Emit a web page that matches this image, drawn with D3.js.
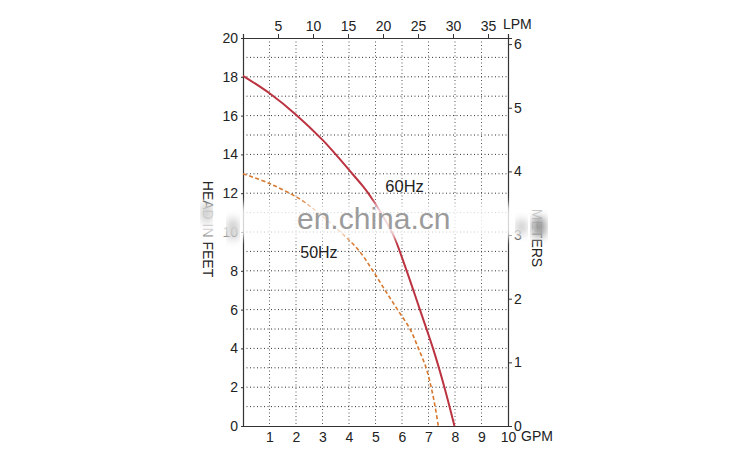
<!DOCTYPE html>
<html lang="en">
	<head>
		<meta charset="utf-8">
		<title>Pump curve</title>
		<script type="text/javascript" src="https://cdn.jsdelivr.net/npm/d3@7"></script>
		<style type="text/css">
			body { margin: 0; background: #fff; }
			.Axis path, .Axis line { stroke: #333; }
			.Axis text { font-family: "Liberation Sans", Arial, sans-serif; font-size: 14px; fill: #222; }
			.grid line { stroke: #333; stroke-width: 1; stroke-dasharray: 1,2.5; }
			.lbl { font-family: "Liberation Sans", Arial, sans-serif; font-size: 14px; fill: #222; }
		</style>
	</head>
	<body>
		<script type="text/javascript">

			// data
			var gpmTicks = [1, 2, 3, 4, 5, 6, 7, 8, 9, 10];
			var lpmTicks = [5, 10, 15, 20, 25, 30, 35];
			var feetTicks = [0, 2, 4, 6, 8, 10, 12, 14, 16, 18, 20];
			var meterTicks = [0, 1, 2, 3, 4, 5, 6];

			var gpm60 = [0, 1, 2, 3, 3.5, 4, 4.5, 4.75, 5.2, 5.67, 6.15, 6.65, 7.17, 7.6, 7.98];
			var feet60 = [18.05, 17.15, 16.05, 14.75, 14.0, 13.2, 12.4, 11.95, 11.0, 9.85, 8.1, 6.1, 4, 2, 0];
			var gpm50 = [0, 1, 2.2, 3, 3.8, 4.4, 4.9, 5.36, 5.83, 6.3, 6.62, 6.91, 7.1, 7.25, 7.37];
			var feet50 = [13, 12.5, 11.65, 10.8, 9.85, 9, 8, 7, 6, 5, 4, 3, 2, 1, 0];

			var w = 750;
			var h = 459;
			var pLeft = 243, pRight = 508, pTop = 38, pBottom = 426;

			var xScale = d3.scaleLinear().domain([0, 10]).range([pLeft, pRight]);
			var yScale = d3.scaleLinear().domain([0, 20]).range([pBottom, pTop]);
			var lpmScale = d3.scaleLinear().domain([0, 10 * 3.7854]).range([pLeft, pRight]);
			var mScale = d3.scaleLinear().domain([0, 20 * 0.3048]).range([pBottom, pTop]);

			var svg = d3.select("body")
						.append("svg")
						.attr("width", w)
						.attr("height", h);

			// grid
			var grid = svg.append("g").classed("grid", true);
			grid.selectAll("line.v")
				.data(d3.range(1, 10))
				.enter().append("line").attr("class", "v")
				.attr("x1", function(d) { return xScale(d); })
				.attr("x2", function(d) { return xScale(d); })
				.attr("y1", pTop).attr("y2", pBottom)
				.style("stroke", "#555");
			grid.selectAll("line.h")
				.data(d3.range(1, 20))
				.enter().append("line").attr("class", "h")
				.attr("y1", function(d) { return yScale(d); })
				.attr("y2", function(d) { return yScale(d); })
				.attr("x1", pLeft).attr("x2", pRight);

			// axes
			svg.append("g").classed("Axis", true)
				.attr("transform", "translate(0," + pBottom + ")")
				.call(d3.axisBottom(xScale).tickValues(gpmTicks).tickSize(0).tickPadding(6));
			svg.append("g").classed("Axis", true)
				.attr("transform", "translate(0," + pTop + ")")
				.call(d3.axisTop(lpmScale).tickValues(lpmTicks).tickSize(4).tickPadding(3));
			svg.append("g").classed("Axis", true)
				.attr("transform", "translate(" + pLeft + ",0)")
				.call(d3.axisLeft(yScale).tickValues(feetTicks).tickSize(2).tickPadding(3));
			svg.append("g").classed("Axis", true)
				.attr("transform", "translate(" + pRight + ",0)")
				.call(d3.axisRight(mScale).tickValues(meterTicks).tickFormat(d3.format("d")).tickSize(4).tickPadding(2));
			svg.selectAll(".Axis .domain").attr("stroke-width", 1.2);

			// unit labels
			svg.append("text").classed("lbl", true).attr("x", 521).attr("y", 441).text("GPM");
			svg.append("text").classed("lbl", true).attr("x", 503).attr("y", 29).text("LPM");
			svg.append("text").classed("lbl", true)
				.attr("transform", "translate(203,229) rotate(90)")
				.attr("text-anchor", "middle").text("HEAD IN FEET");
			svg.append("text").classed("lbl", true)
				.attr("transform", "translate(532,238) rotate(90)")
				.attr("text-anchor", "middle").text("METERS");

			// curves
			var line = d3.line()
				.x(function(d) { return xScale(d[0]); })
				.y(function(d) { return yScale(d[1]); })
				.curve(d3.curveCatmullRom.alpha(0.5));

			svg.append("path")
				.datum(d3.zip(gpm50, feet50))
				.attr("d", line)
				.attr("fill", "none")
				.attr("stroke", "#d8782e")
				.attr("stroke-width", 1.6)
				.attr("stroke-dasharray", "4,2.5");

			svg.append("path")
				.datum(d3.zip(gpm60, feet60))
				.attr("d", line)
				.attr("fill", "none")
				.attr("stroke", "#bb3340")
				.attr("stroke-width", 2);

			svg.append("text").attr("class", "lbl").style("font-size", "16.5px")
				.attr("x", xScale(5.37)).attr("y", yScale(12.05)).text("60Hz");
			svg.append("text").attr("class", "lbl").style("font-size", "16px")
				.attr("x", xScale(2.16)).attr("y", yScale(8.65)).text("50Hz");

			// watermark
			var defs = svg.append("defs");
			defs.append("filter").attr("id", "blur").attr("x", "-20%").attr("y", "-50%")
				.attr("width", "140%").attr("height", "200%")
				.append("feGaussianBlur").attr("stdDeviation", 4);
			svg.append("rect").attr("x", 195).attr("y", 204).attr("width", 360).attr("height", 34)
				.attr("fill", "#fff").attr("opacity", 0.8).attr("filter", "url(#blur)");
			svg.append("rect").attr("x", 202).attr("y", 204).attr("width", 9).attr("height", 18)
				.attr("fill", "#c4c4c4").attr("filter", "url(#blur)");
			svg.append("rect").attr("x", 228).attr("y", 219).attr("width", 10).attr("height", 20)
				.attr("fill", "#c8c8c8").attr("filter", "url(#blur)");
			svg.append("rect").attr("x", 517).attr("y", 220).attr("width", 9).attr("height", 14)
				.attr("fill", "#c4c4c4").attr("filter", "url(#blur)");
			svg.append("rect").attr("x", 533).attr("y", 218).attr("width", 12).attr("height", 18)
				.attr("fill", "#8c8c8c").attr("filter", "url(#blur)");
			svg.append("text")
				.attr("x", 297).attr("y", 229)
				.style("font-family", "'Liberation Sans', Arial, sans-serif")
				.style("font-size", "30px")
				.attr("fill", "#9b9b9b")
				.text("en.china.cn");

		</script>
	</body>
</html>
